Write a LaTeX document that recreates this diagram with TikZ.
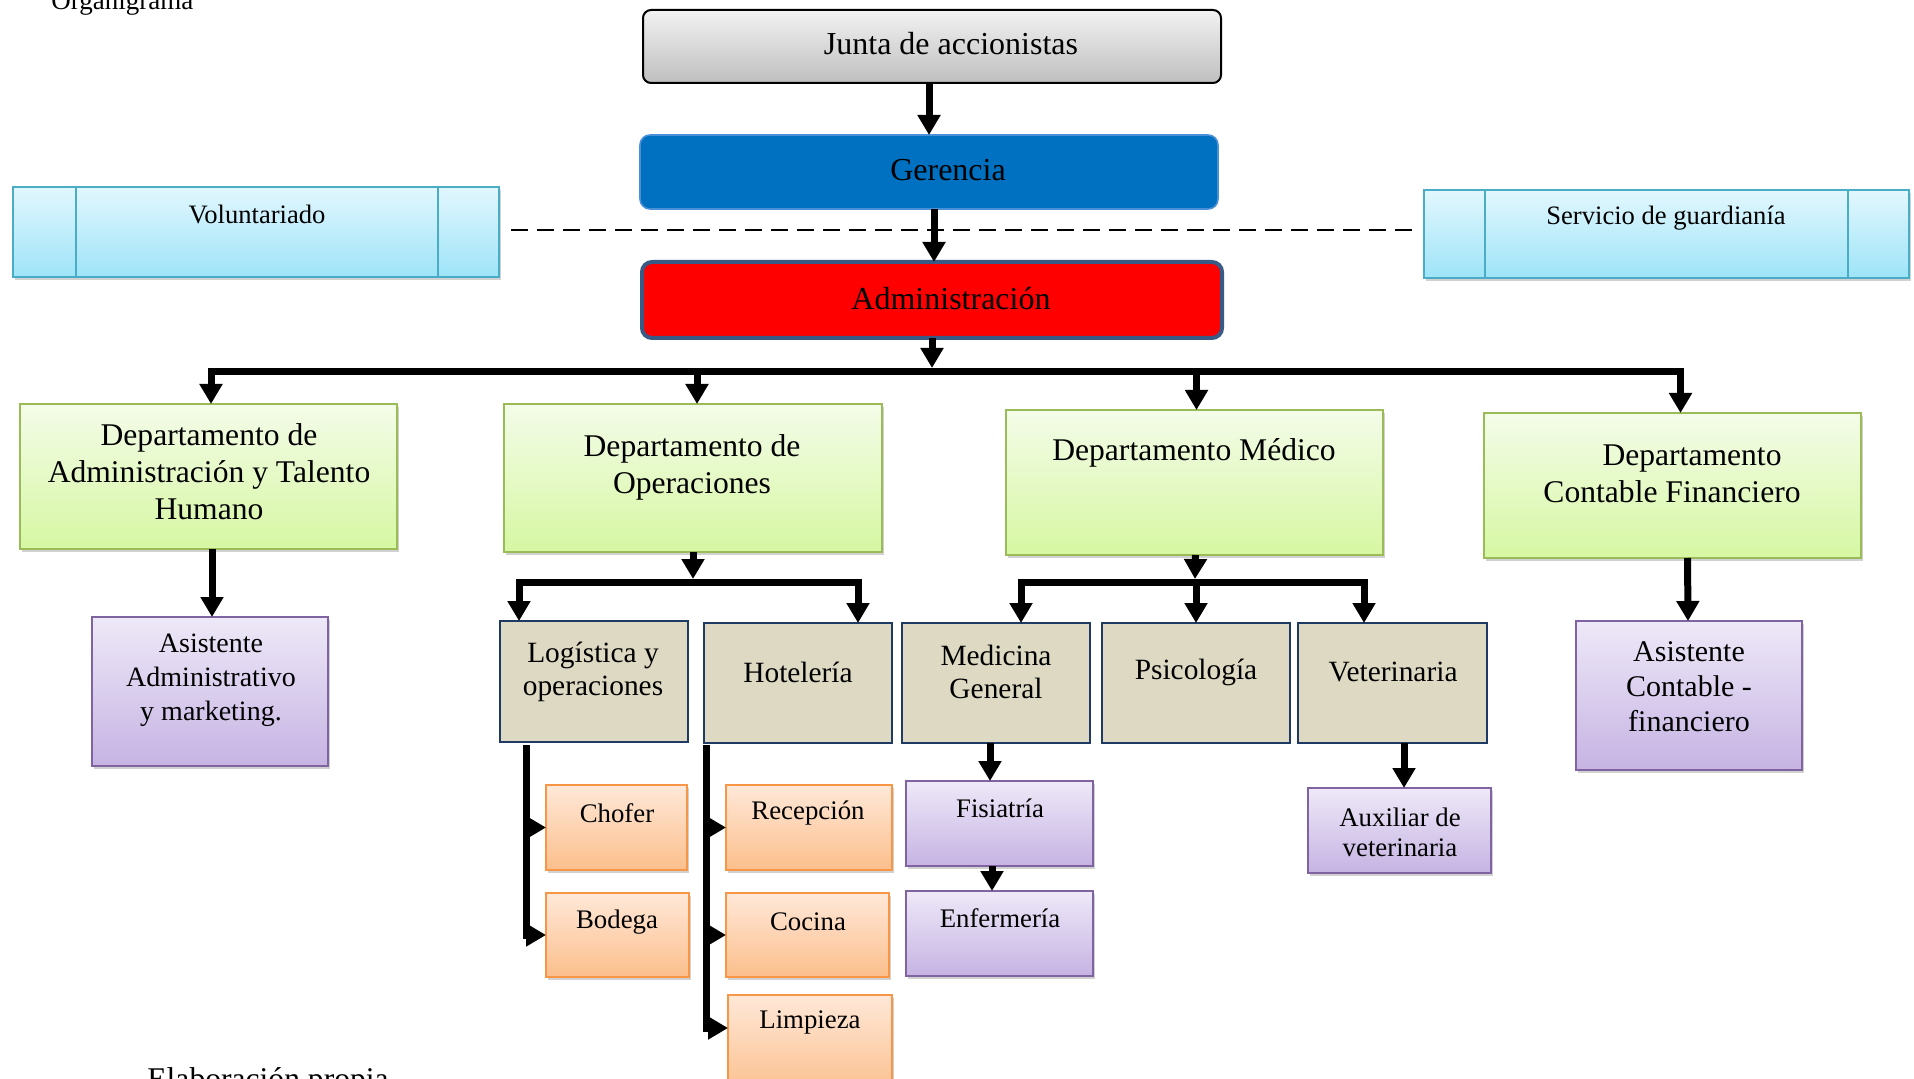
\documentclass[tikz,border=0pt]{standalone}
\usepackage{fontspec}
\setmainfont{Liberation Serif}
\usetikzlibrary{arrows.meta,calc,fit,shadows}
\definecolor{jTop}{HTML}{F2F2F2}
\definecolor{jBot}{HTML}{BFBFBF}
\definecolor{gerFill}{HTML}{0070C0}
\definecolor{gerEdge}{HTML}{4A90D9}
\definecolor{admEdge}{HTML}{3A5A86}
\definecolor{sideTop}{HTML}{E2F7FE}
\definecolor{sideBot}{HTML}{9EE4F8}
\definecolor{sideEdge}{HTML}{4BACC6}
\definecolor{deptTop}{HTML}{F4FCE9}
\definecolor{deptBot}{HTML}{D6F7A2}
\definecolor{deptEdge}{HTML}{9BBB59}
\definecolor{lFill}{HTML}{DDD9C3}
\definecolor{lEdge}{HTML}{1F3B63}
\definecolor{orTop}{HTML}{FFE8D8}
\definecolor{orBot}{HTML}{FBBF8C}
\definecolor{orEdge}{HTML}{F79646}
\definecolor{puTop}{HTML}{EEE9F8}
\definecolor{puBot}{HTML}{C6B3E3}
\definecolor{puEdge}{HTML}{8064A2}
\newcommand\fsTop{\fontsize{16pt}{19pt}\selectfont}
\newcommand\fsDept{\fontsize{15.8pt}{18.5pt}\selectfont}
\newcommand\fsLevel{\fontsize{14.7pt}{16.5pt}\selectfont}
\newcommand\fsSmall{\fontsize{13.4pt}{15pt}\selectfont}
\newcommand\fsSide{\fontsize{13.3pt}{15pt}\selectfont}
\newcommand\fsAsiA{\fontsize{14pt}{17pt}\selectfont}
\newcommand\fsAsiC{\fontsize{15pt}{17.5pt}\selectfont}
\tikzset{
  box/.style={inner sep=0pt, outer sep=0pt},
  shad/.style={drop shadow={opacity=0.3, shadow xshift=1pt, shadow yshift=-1.5pt, fill=black!60}},
  juntabox/.style={box, draw=black, line width=1pt, rounded corners=4pt, top color=jTop, bottom color=jBot},
  gerbox/.style={box, draw=gerEdge, line width=0.8pt, fill=gerFill, rounded corners=5pt},
  admbox/.style={box, draw=admEdge, line width=2pt, fill=red, rounded corners=5pt},
  sidebox/.style={box, shad, draw=sideEdge, line width=1pt, top color=sideTop, bottom color=sideBot},
  deptbox/.style={box, shad, draw=deptEdge, line width=1pt, top color=deptTop, bottom color=deptBot},
  lbox/.style={box, draw=lEdge, line width=1pt, fill=lFill},
  orbox/.style={box, shad, draw=orEdge, line width=1.2pt, top color=orTop, bottom color=orBot},
  pubox/.style={box, shad, draw=puEdge, line width=1.2pt, top color=puTop, bottom color=puBot},
  txt/.style={inner sep=0pt, align=center, text=black},
  arr/.style={line width=3.5pt, -{Triangle[length=10pt,width=11pt]}},
  dashln/.style={line width=0.8pt, dash pattern=on 8.5pt off 4.5pt},
  sideline/.style={draw=sideEdge, line width=1pt}
}
\begin{document}
\begin{tikzpicture}[x=0.5pt,y=-0.5pt]
\useasboundingbox (0,0) rectangle (1914,1079);
\clip (0,0) rectangle (1914,1079);

% boxes
\node[juntabox, fit={(643,10)(1221,83)}] (junta) {};
\node[gerbox, fit={(640,135)(1218,209)}] (ger) {};
\node[admbox, fit={(642,262)(1222,338)}] (adm) {};
\node[sidebox, fit={(13,187)(499,277)}] (vol) {};
\node[sidebox, fit={(1424,190)(1909,278)}] (serv) {};
\node[deptbox, fit={(20,404)(397,549)}] (d1) {};
\node[deptbox, fit={(504,404)(882,552)}] (d2) {};
\node[deptbox, fit={(1006,410)(1383,555)}] (d3) {};
\node[deptbox, fit={(1484,413)(1861,558)}] (d4) {};
\node[pubox, fit={(92,617)(328,766)}] (asa) {};
\node[pubox, fit={(1576,621)(1802,770)}] (asc) {};
\node[lbox, fit={(500,621)(688,742)}] (log) {};
\node[lbox, fit={(704,623)(892,743)}] (hot) {};
\node[lbox, fit={(902,623)(1090,743)}] (med) {};
\node[lbox, fit={(1102,623)(1290,743)}] (psi) {};
\node[lbox, fit={(1298,623)(1487,743)}] (vet) {};
\node[orbox, fit={(546,785)(687,870)}] (cho) {};
\node[orbox, fit={(546,893)(689,977)}] (bod) {};
\node[orbox, fit={(726,785)(892,870)}] (rec) {};
\node[orbox, fit={(726,893)(889,977)}] (coc) {};
\node[orbox, fit={(728,995)(892,1095)}] (lim) {};
\node[pubox, fit={(906,781)(1093,866)}] (fis) {};
\node[pubox, fit={(906,891)(1093,976)}] (enf) {};
\node[pubox, fit={(1308,788)(1491,873)}] (aux) {};

% inner lines of side boxes
\draw[sideline] ($(vol.north west)+(63,0)$) -- ($(vol.south west)+(63,0)$);
\draw[sideline] ($(vol.north east)+(-61,0)$) -- ($(vol.south east)+(-61,0)$);
\draw[sideline] ($(serv.north west)+(61,0)$) -- ($(serv.south west)+(61,0)$);
\draw[sideline] ($(serv.north east)+(-61,0)$) -- ($(serv.south east)+(-61,0)$);

% texts
\node[anchor=base west, inner sep=0pt, font=\fontsize{13.5pt}{16pt}\selectfont] (org) at (51,10) {Organigrama};
\node[anchor=base west, inner sep=0pt, font=\fontsize{15.8pt}{19pt}\selectfont] (elab) at (147,1089) {Elaboración propia};
\node[txt, font=\fsTop] (tjunta) at (951,44) {Junta de accionistas};
\node[txt, font=\fsTop] (tger) at (948,170) {Gerencia};
\node[txt, font=\fsTop] (tadm) at (951,299) {Administración};
\node[txt, font=\fsSide] (tvol) at (257,214) {Voluntariado};
\node[txt, font=\fsSide] (tserv) at (1666,218) {Servicio de guardianía};
\node[txt, font=\fsDept] (td1) at (209,472) {Departamento de\\Administración y Talento\\Humano};
\node[txt, font=\fsDept] (td2) at (692,467) {Departamento de\\Operaciones};
\node[txt, font=\fsDept] (td3) at (1194,453) {Departamento Médico};
\node[txt, font=\fsDept] (td4) at (1672,474) {\hspace*{20pt}Departamento\\Contable Financiero};
\node[txt, font=\fsAsiA] (tasa) at (211,680) {Asistente\\Administrativo\\y marketing.};
\node[txt, font=\fsAsiC] (tasc) at (1689,687) {Asistente\\Contable -\\financiero};
\node[txt, font=\fsLevel] (tlog) at (593,672) {Logística y\\operaciones};
\node[txt, font=\fsLevel] (thot) at (798,672) {Hotelería};
\node[txt, font=\fsLevel] (tmed) at (996,672) {Medicina\\General};
\node[txt, font=\fsLevel] (tpsi) at (1196,672) {Psicología};
\node[txt, font=\fsLevel] (tvet) at (1393,672) {Veterinaria};
\node[txt, font=\fsSmall] (tcho) at (617,813) {Chofer};
\node[txt, font=\fsSmall] (tbod) at (617,922) {Bodega};
\node[txt, font=\fsSmall] (trec) at (808,813) {Recepción};
\node[txt, font=\fsSmall] (tcoc) at (808,922) {Cocina};
\node[txt, font=\fsSmall] (tlim) at (810,1022) {Limpieza};
\node[txt, font=\fsSmall] (tfis) at (1000,808) {Fisiatría};
\node[txt, font=\fsSmall] (tenf) at (1000,918) {Enfermería};
\node[txt, font=\fsSmall] (taux) at (1400,832) {Auxiliar de\\veterinaria};

% dashed line
\draw[dashln] ($(vol.east)+(12,-2)$) -- ($(serv.west)+(-8,-4)$);

% connectors
\coordinate (busTop) at (932,368);
\coordinate (bus) at (931,372);
\draw[arr] ($(junta.south)+(-3,0)$) -- (ger.north);
\draw[arr] ($(ger.south)+(5,0)$) -- ($(adm.north)+(2,0)$);
\draw[arr] (adm.south) -- (busTop);
\draw[arr] (bus) -| ($(d1.north)+(2.5,0)$);
\draw[arr] (bus) -| ($(d2.north)+(4,0)$);
\draw[arr] (bus) -| ($(d3.north)+(2,0)$);
\draw[arr] (bus) -| ($(d4.north)+(8,0)$);

\draw[arr] ($(d1.south)+(3.5,0)$) -- ($(asa.north)+(2,0)$);
\draw[arr] ($(d4.south)+(15,0)$) -- ($(asc.north)+(-1,0)$);

\coordinate (sbTwoTop) at (693,579);
\coordinate (sbTwo) at (693,582);
\draw[arr] (d2.south) -- (sbTwoTop);
\draw[arr] (sbTwo) -| ($(log.north west)+(19,0)$);
\draw[arr] (sbTwo) -| ($(hot.north east)+(-34,0)$);

\coordinate (sbThreeTop) at (1195,579);
\coordinate (sbThree) at (1196,582);
\draw[arr] ($(d3.south)+(1,0)$) -- (sbThreeTop);
\draw[arr] (sbThree) -| ($(med.north west)+(119,0)$);
\draw[arr] (sbThree) -- (psi.north);
\draw[arr] (sbThree) -| ($(vet.north east)+(-123,0)$);

\draw[arr] ($(med.south)+(-6,0)$) -- ($(fis.north)+(-9.5,0)$);
\draw[arr] ($(fis.south)+(-7.5,0)$) -- ($(enf.north)+(-7.5,0)$);
\draw[arr] ($(vet.south)+(11.5,0)$) -- ($(aux.north)+(4.5,0)$);

\coordinate (logDrop) at ($(log.south west)+(26,3)$);
\coordinate (hotDrop) at ($(hot.south west)+(2,2)$);
\coordinate (limIn) at ($(lim.north west)+(0,33)$);
\draw[arr] (logDrop) |- (cho.west);
\draw[arr] (logDrop) |- (bod.west);
\draw[arr] (hotDrop) |- (rec.west);
\draw[arr] (hotDrop) |- (coc.west);
\draw[arr] (hotDrop) |- (limIn);
\end{tikzpicture}
\end{document}
